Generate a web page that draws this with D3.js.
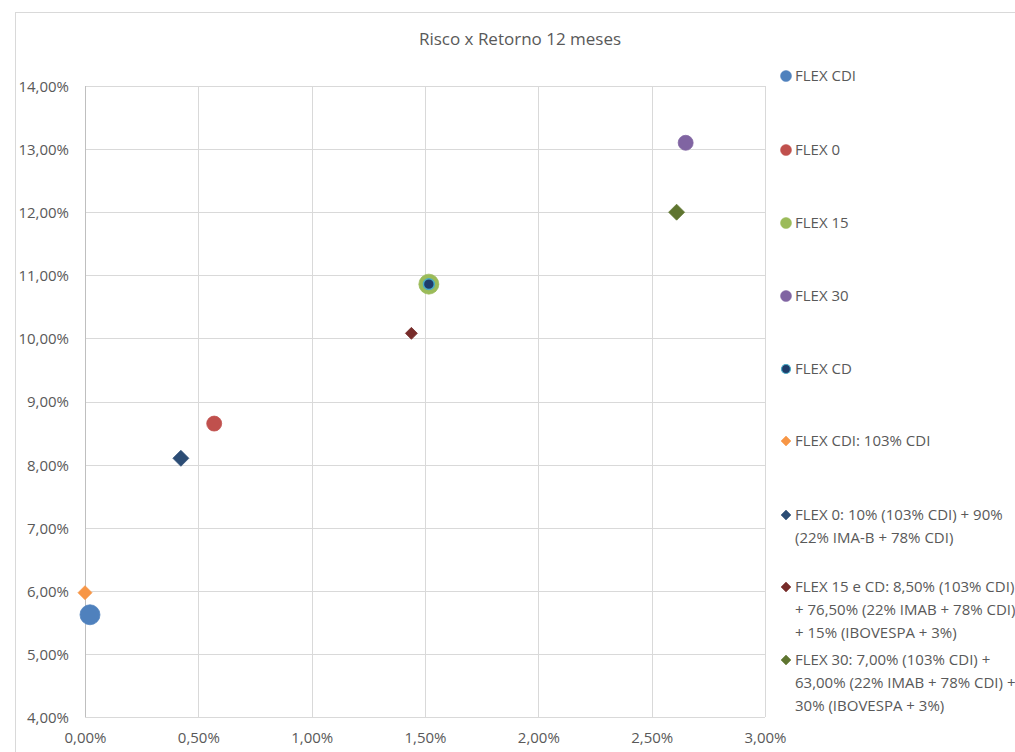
<!DOCTYPE html>
<html>
<head>
<meta charset="utf-8">
<script src="https://cdn.jsdelivr.net/npm/d3@7"></script>
<style>
  html, body { margin: 0; padding: 0; background: #fff; }
  svg { display: block; font-family: "Open Sans", "Noto Sans", sans-serif; }
</style>
</head>
<body>
<svg id="chart" width="1015" height="752"></svg>
<script>
// Risk (x, volatility) vs return (y), 12 months, in percent
const seriesNames = [
  "FLEX CDI", "FLEX 0", "FLEX 15", "FLEX 30", "FLEX CD",
  "FLEX CDI: 103% CDI",
  "FLEX 0: 10% (103% CDI) + 90% (22% IMA-B + 78% CDI)",
  "FLEX 15 e CD: 8,50% (103% CDI) + 76,50% (22% IMAB + 78% CDI) + 15% (IBOVESPA + 3%)",
  "FLEX 30: 7,00% (103% CDI) + 63,00% (22% IMAB + 78% CDI) + 30% (IBOVESPA + 3%)"
];
const legendLines = [
  ["FLEX CDI"], ["FLEX 0"], ["FLEX 15"], ["FLEX 30"], ["FLEX CD"],
  ["FLEX CDI: 103% CDI"],
  ["FLEX 0: 10% (103% CDI) + 90%", "(22% IMA-B + 78% CDI)"],
  ["FLEX 15 e CD: 8,50% (103% CDI)", "+ 76,50% (22% IMAB + 78% CDI)", "+ 15% (IBOVESPA + 3%)"],
  ["FLEX 30: 7,00% (103% CDI) +", "63,00% (22% IMAB + 78% CDI) +", "30% (IBOVESPA + 3%)"]
];
const riskValues   = [0.022, 0.57, 1.517, 2.65, 1.517, 0.0, 0.423, 1.44, 2.61];
const returnValues = [5.62, 8.65, 10.86, 13.10, 10.86, 5.97, 8.10, 10.08, 12.00];
const markerShapes = ["circle", "circle", "circle", "circle", "circle", "diamond", "diamond", "diamond", "diamond"];
const fillColors   = ["#4F81BD", "#C0504D", "#9BBB59", "#8064A2", "#1F3D6B", "#F79646", "#2C4D75", "#772C2A", "#5F7530"];
const strokeColors = ["#4F81BD", "#C0504D", "#9BBB59", "#8064A2", "#4BACC6", "#F79646", "#2C4D75", "#772C2A", "#5F7530"];
const markerSizes  = [10, 7.5, 10, 7.5, 6.2, 7, 8, 6, 8];   // radius / half-diagonal

const xTicks = [0, 0.5, 1.0, 1.5, 2.0, 2.5, 3.0];
const yTicks = [4, 5, 6, 7, 8, 9, 10, 11, 12, 13, 14];
const chartTitle = "Risco x Retorno 12 meses";

const ptBR = d3.formatLocale({ decimal: ",", thousands: ".", grouping: [3], currency: ["R$", ""] });
const pct = v => ptBR.format(".2f")(v) + "%";

const svg = d3.select("#chart");
const W = 1015, H = 752;
const plot = { left: 85, right: 765, top: 86, bottom: 717 };

const x = d3.scaleLinear().domain([0, 3]).range([plot.left, plot.right]);
const y = d3.scaleLinear().domain([4, 14]).range([plot.bottom, plot.top]);

// outer chart frame
svg.append("rect")
  .attr("x", 15.5).attr("y", 12.5)
  .attr("width", W + 20).attr("height", H + 20)
  .attr("fill", "#fff").attr("stroke", "#D9D9D9").attr("stroke-width", 1);

svg.append("text")
  .attr("x", 520).attr("y", 45)
  .attr("text-anchor", "middle")
  .attr("font-size", 17).attr("fill", "#595959")
  .text(chartTitle);

// gridlines
const grid = svg.append("g");
grid.selectAll("line.h").data(yTicks).join("line")
  .attr("x1", plot.left).attr("x2", plot.right)
  .attr("y1", d => Math.round(y(d)) + 0.5).attr("y2", d => Math.round(y(d)) + 0.5)
  .attr("stroke", "#D9D9D9");
grid.selectAll("line.v").data(xTicks).join("line")
  .attr("y1", plot.top).attr("y2", plot.bottom)
  .attr("x1", d => Math.round(x(d)) + 0.5).attr("x2", d => Math.round(x(d)) + 0.5)
  .attr("stroke", d => d === 0 ? "#BFBFBF" : "#D9D9D9");

// axes (labels only, lines are drawn as gridlines)
const yAxis = svg.append("g")
  .attr("transform", `translate(${plot.left - 16},0)`)
  .call(d3.axisLeft(y).tickValues(yTicks).tickFormat(pct).tickSize(0).tickPadding(0));
const xAxis = svg.append("g")
  .attr("transform", `translate(0,${plot.bottom + 15})`)
  .call(d3.axisBottom(x).tickValues(xTicks).tickFormat(pct).tickSize(0).tickPadding(0));
[yAxis, xAxis].forEach(a => {
  a.select(".domain").remove();
  a.selectAll("text").attr("font-size", 15).attr("fill", "#595959")
    .attr("font-family", "'Open Sans', sans-serif");
});
yAxis.selectAll("text").attr("dy", "0.36em");
xAxis.selectAll("text").attr("dy", "0.71em");

// marker shapes: square diamond and circle
const diamondType = {
  draw(ctx, size) {
    const r = Math.sqrt(size);
    ctx.moveTo(0, -r); ctx.lineTo(r, 0); ctx.lineTo(0, r); ctx.lineTo(-r, 0); ctx.closePath();
  }
};
const circleType = {
  draw(ctx, size) {
    const r = Math.sqrt(size);
    ctx.moveTo(r, 0); ctx.arc(0, 0, r, 0, 2 * Math.PI);
  }
};
const shapePath = (shape, r) =>
  d3.symbol().type(shape === "diamond" ? diamondType : circleType).size(r * r)();

const points = seriesNames.map((name, i) => ({
  name, i, xv: riskValues[i], yv: returnValues[i],
  shape: markerShapes[i], fill: fillColors[i], stroke: strokeColors[i], r: markerSizes[i]
}));

svg.append("g").selectAll("path").data(points).join("path")
  .attr("transform", d => `translate(${x(d.xv)},${y(d.yv)})`)
  .attr("d", d => shapePath(d.shape, d.i === 4 ? d.r - 0.75 : d.r))
  .attr("fill", d => d.fill)
  .attr("stroke", d => d.stroke)
  .attr("stroke-width", d => d.i === 4 ? 1.5 : 0.75);

// legend
const legendTop = [76, 150, 223, 296, 369, 441, 515, 587, 660];
const lineH = 23;
const lg = svg.append("g");
const items = lg.selectAll("g").data(points).join("g")
  .attr("transform", d => `translate(786,${legendTop[d.i]})`);
items.append("path")
  .attr("d", d => shapePath(d.shape, d.i === 4 ? 4.5 : (d.shape === "diamond" ? 5 : 5.5)))
  .attr("fill", d => d.fill)
  .attr("stroke", d => d.stroke)
  .attr("stroke-width", d => d.i === 4 ? 1.2 : 0.5);
items.append("text")
  .attr("x", 9).attr("y", 0)
  .attr("font-size", 15).attr("fill", "#595959")
  .selectAll("tspan").data(d => legendLines[d.i]).join("tspan")
  .attr("x", 9).attr("y", (d, k) => k * lineH).attr("dy", "0.36em")
  .text(d => d);
</script>
</body>
</html>
